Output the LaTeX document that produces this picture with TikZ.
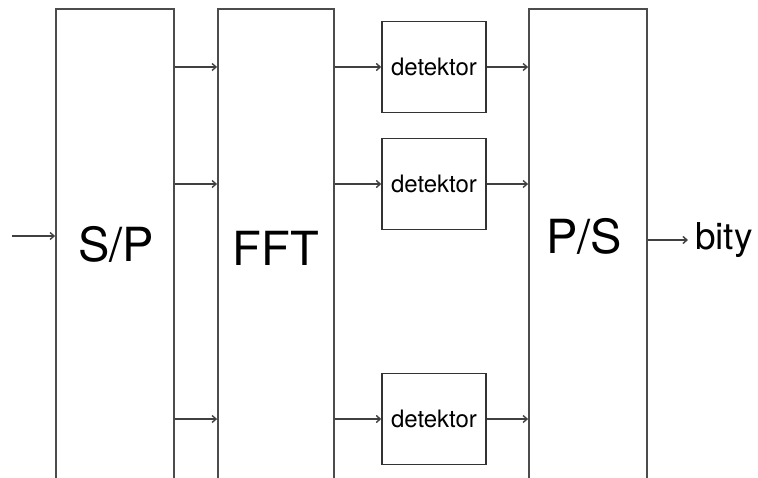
\documentclass[tikz,border=0pt]{standalone}
\usepackage{fontspec}
\setmainfont{TeX Gyre Heros}
\usetikzlibrary{arrows.meta, positioning}

\begin{document}
\begin{tikzpicture}[x=1pt, y=-1pt,
  blok/.style={draw=black!70, line width=1.8pt, minimum width=#1, minimum height=478pt, inner sep=0pt},
  blok/.default=118pt,
  detbox/.style={draw=black!80, line width=1.4pt, minimum width=104pt, minimum height=91pt, inner sep=0pt,
    font=\fontsize{24}{26}\selectfont},
  bigtxt/.style={font=\fontsize{47}{52}\selectfont, inner sep=0pt},
  arr/.style={draw=black!75, line width=1.4pt, -{Straight Barb[length=4pt,width=7pt]}}
]
\clip (0,0) rectangle (758,477);

% main blocks
\node[blok] (sp) at (115,248) {};
\node[blok=116pt] (fft) at (276,248) {};
\node[blok] (ps) at (588,248) {};
\node[bigtxt] (sptxt) at (116,244) {S/P};
\node[bigtxt] (ffttxt) at (276,248) {FFT};
\node[bigtxt] (pstxt) at (584,236) {P/S};

% detectors
\node[detbox] (det1) at (434,67) {detektor};
\node[detbox] (det2) at (434,184) {detektor};
\node[detbox] (det3) at (434,419) {detektor};

% input / output
\coordinate (in) at (12,236);
\node[font=\fontsize{37}{42}\selectfont, inner ysep=0pt, inner xsep=7pt, anchor=west] (bity) at (688,240) {bity};

\draw[arr] (in) -- (sp.west |- in);
\foreach \d in {det1,det2,det3} {
  \draw[arr] (sp.east |- \d.west) -- (fft.west |- \d.west);
  \draw[arr] (fft.east |- \d.west) -- (\d.west);
  \draw[arr] (\d.east) -- (ps.west |- \d.east);
}
\draw[arr] (ps.east |- bity.west) -- (bity.west);
\end{tikzpicture}
\end{document}
